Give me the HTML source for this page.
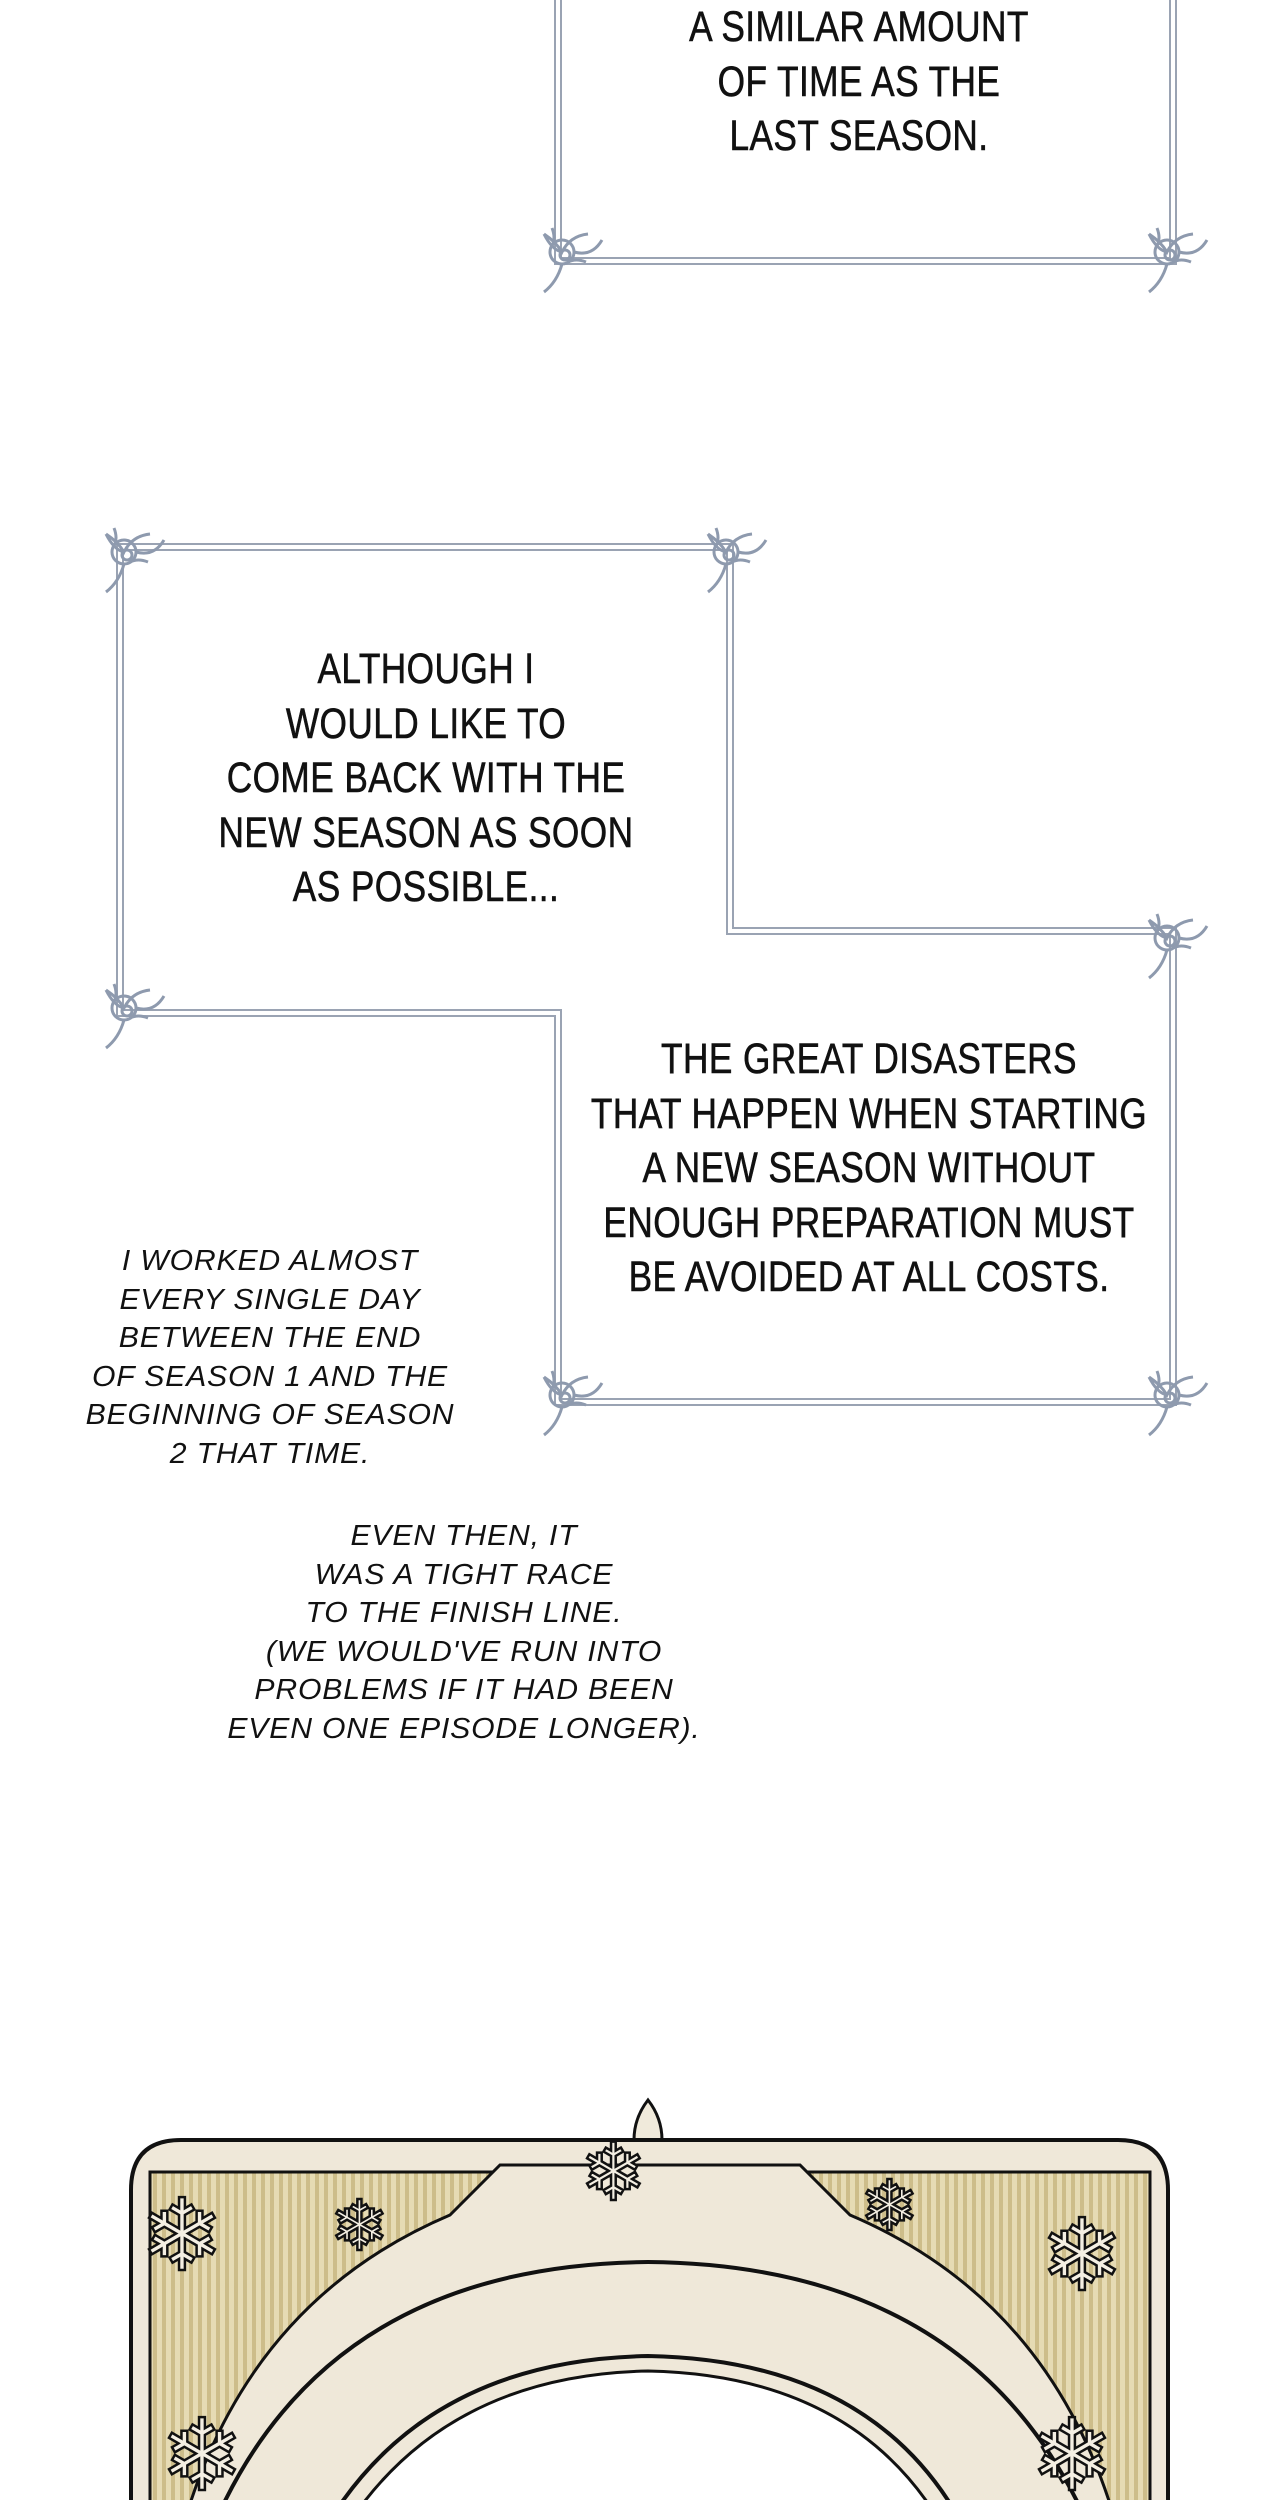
<!DOCTYPE html>
<html><head><meta charset="utf-8"><style>
html,body{margin:0;padding:0;background:#fff;}
body{width:1280px;height:2500px;position:relative;overflow:hidden;font-family:"Liberation Sans",sans-serif;}
.t{position:absolute;text-align:center;color:#111;font-size:43px;line-height:54.5px;white-space:nowrap;transform:translateX(-50%) scaleX(0.82);letter-spacing:0.5px;-webkit-text-stroke:0.6px #111;}
.i{position:absolute;text-align:center;color:#111;font-size:29px;line-height:38.5px;font-style:italic;white-space:nowrap;transform:translateX(-50%) scaleX(1.04);letter-spacing:0.8px;}
svg{position:absolute;left:0;top:0;}
</style></head><body>
<svg width="1280" height="2500" viewBox="0 0 1280 2500">
<defs>
<pattern id="st" width="9" height="10" patternUnits="userSpaceOnUse"><rect width="9" height="10" fill="#e6dbb4"/><rect width="4" height="10" fill="#cdbd8a"/></pattern>
<g id="orn" fill="none" stroke="#8e9aae" stroke-width="3"><circle cx="0" cy="0" r="12"/><path d="M-18 -18 q12 8 18 18 q8 -16 26 -18 M-18 -18 q8 16 18 18 M0 12 q-5 18 -18 28 M12 0 q18 5 28 -12 M-10 -24 q4 10 0 18 M24 10 q-10 -4 -18 0"/><circle cx="3" cy="3" r="5"/></g>
</defs>
<g fill="none" stroke="#9aa3b3" stroke-width="2">
<path d="M555 0 V264 H1176 V0"/><path d="M561 0 V258 H1170 V0"/>
<path d="M117 544 H733 V928 H1176 V1405 H555 V1016 H117 Z"/>
<path d="M123 550 H727 V934 H1170 V1399 H561 V1010 H123 Z"/>
</g>
<use href="#orn" x="562" y="252"/><use href="#orn" x="1167" y="252"/>
<use href="#orn" x="124" y="552"/><use href="#orn" x="726" y="552"/>
<use href="#orn" x="124" y="1008"/><use href="#orn" x="1167" y="938"/>
<use href="#orn" x="562" y="1395"/><use href="#orn" x="1167" y="1395"/>
<path d="M648 2100 q-14 18 -14 40 h28 q0 -22 -14 -40z" fill="#f0eadb" stroke="#111" stroke-width="3"/>
<path d="M131 2520 V2190 q0 -50 50 -50 H1118 q50 0 50 50 V2520 Z" fill="#efe8d9" stroke="#111" stroke-width="4"/>
<path d="M150 2520 V2172 H1150 V2520 Z" fill="url(#st)" stroke="#111" stroke-width="3"/>
<path d="M185 2520 Q250 2300 450 2215 L500 2165 H800 L850 2215 Q1050 2300 1115 2520 Z" fill="#efe8d9" stroke="#111" stroke-width="3"/>
<path d="M216 2520 Q330 2265 648 2262 Q970 2265 1086 2520 Z" fill="#efe8d9" stroke="#111" stroke-width="4"/>
<path d="M330 2520 Q430 2360 648 2356 Q870 2360 960 2520" fill="none" stroke="#111" stroke-width="4"/>
<path d="M351 2520 Q450 2375 648 2371 Q850 2375 939 2520 Z" fill="#fff" stroke="#111" stroke-width="3"/>
<g fill="#f4efe3" stroke="#111" stroke-width="2.5" font-size="100" font-family="DejaVu Sans">
<text x="140" y="2270">❄</text><text x="330" y="2250" font-size="70">❄</text><text x="860" y="2230" font-size="70">❄</text><text x="1040" y="2290">❄</text><text x="160" y="2490">❄</text><text x="1030" y="2490">❄</text><text x="580" y="2200" font-size="80">❄</text>
</g>
</svg>
<div class="t" style="left:859px;top:0px;">A SIMILAR AMOUNT<br>OF TIME AS THE<br>LAST SEASON.</div>
<div class="t" style="left:426px;top:642px;">ALTHOUGH I<br>WOULD LIKE TO<br>COME BACK WITH THE<br>NEW SEASON AS SOON<br>AS POSSIBLE...</div>
<div class="t" style="left:869px;top:1032px;">THE GREAT DISASTERS<br>THAT HAPPEN WHEN STARTING<br>A NEW SEASON WITHOUT<br>ENOUGH PREPARATION MUST<br>BE AVOIDED AT ALL COSTS.</div>
<div class="i" style="left:270px;top:1242px;">I WORKED ALMOST<br>EVERY SINGLE DAY<br>BETWEEN THE END<br>OF SEASON 1 AND THE<br>BEGINNING OF SEASON<br>2 THAT TIME.</div>
<div class="i" style="left:464px;top:1517px;">EVEN THEN, IT<br>WAS A TIGHT RACE<br>TO THE FINISH LINE.<br>(WE WOULD'VE RUN INTO<br>PROBLEMS IF IT HAD BEEN<br>EVEN ONE EPISODE LONGER).</div>
</body></html>
